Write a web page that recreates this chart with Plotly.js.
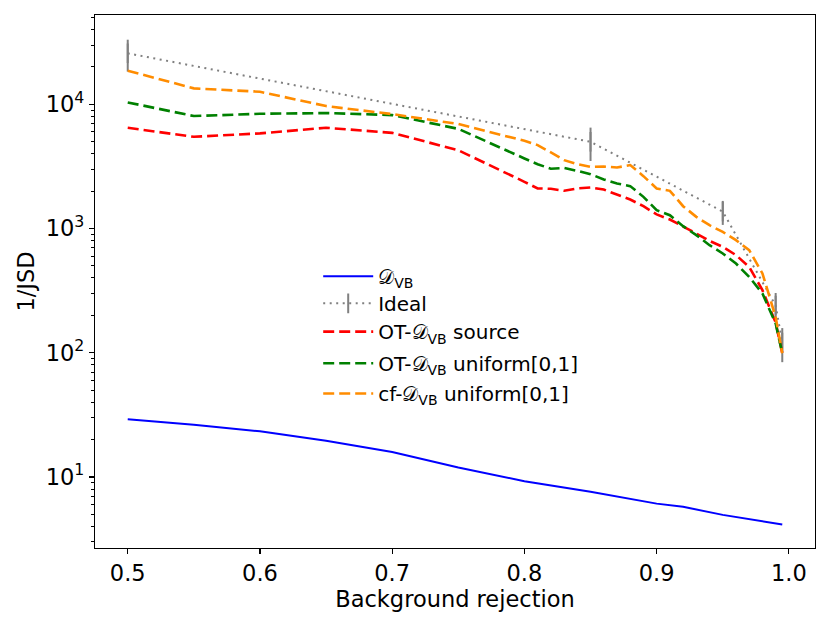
<!DOCTYPE html>
<html>
<head>
<meta charset="utf-8">
<script src="https://cdn.plot.ly/plotly-3.0.1.min.js"></script>
<style>html,body{margin:0;padding:0;background:#fff;}#chart{width:830px;height:623px;}</style>
</head>
<body>
<div id="chart"></div>
<script>
// ---- data ----
const vbX = [0.5, 0.55, 0.6, 0.65, 0.7, 0.75, 0.8, 0.85, 0.9, 0.92, 0.95, 0.97, 0.98, 0.995];
const vbY = [29.1, 26.3, 23.3, 19.6, 15.9, 11.9, 9.25, 7.6, 6.1, 5.75, 4.95, 4.6, 4.4, 4.15];

const idealX = [0.5, 0.85, 0.95, 0.99, 0.995];
const idealY = [25770, 5000, 1370, 240, 121];
const idealErr = [7400, 1500, 300, 63, 37];

const otSrcX = [0.5, 0.55, 0.6, 0.65, 0.7, 0.75, 0.8, 0.81, 0.82, 0.83, 0.84, 0.85, 0.86, 0.87, 0.88, 0.89, 0.9, 0.91, 0.92, 0.93, 0.94, 0.95, 0.96, 0.97, 0.98, 0.99, 0.995];
const otSrcY = [6480, 5480, 5840, 6480, 5900, 4270, 2380, 2105, 2090, 2015, 2105, 2140, 2060, 1890, 1714, 1514, 1300, 1183, 1045, 912, 796, 712, 611, 491, 319, 175, 99];

const otUniX = [0.5, 0.55, 0.6, 0.65, 0.7, 0.75, 0.8, 0.81, 0.82, 0.83, 0.84, 0.85, 0.86, 0.87, 0.88, 0.89, 0.9, 0.91, 0.92, 0.93, 0.94, 0.95, 0.96, 0.97, 0.98, 0.99, 0.995];
const otUniY = [10370, 8050, 8400, 8510, 8200, 6350, 3670, 3300, 3030, 3080, 2915, 2742, 2487, 2308, 2197, 1800, 1406, 1282, 1045, 885, 735, 630, 523, 408, 300, 172, 99];

const cfUniX = [0.5, 0.55, 0.6, 0.65, 0.7, 0.75, 0.8, 0.81, 0.82, 0.83, 0.84, 0.85, 0.86, 0.87, 0.88, 0.89, 0.9, 0.91, 0.92, 0.93, 0.94, 0.95, 0.96, 0.97, 0.98, 0.99, 0.995];
const cfUniY = [18660, 13450, 12640, 9690, 8350, 6950, 5090, 4700, 4100, 3555, 3300, 3140, 3160, 3100, 3245, 2643, 2105, 2013, 1514, 1242, 1064, 940, 807, 670, 435, 194, 99];

const xTickVals = [0.5, 0.6, 0.7, 0.8, 0.9, 1.0];
const yTickVals = [10, 100, 1000, 10000];
const yTickText = ['10<sup>1</sup>', '10<sup>2</sup>', '10<sup>3</sup>', '10<sup>4</sup>'];

const labels = ['𝒟<sub>VB</sub>', 'Ideal', 'OT-𝒟<sub>VB</sub> source', 'OT-𝒟<sub>VB</sub> uniform[0,1]', 'cf-𝒟<sub>VB</sub> uniform[0,1]'];

// minor tick positions for log axis
const yMinor = [];
for (let e = 0; e <= 4; e++) {
  for (let m = 2; m <= 9; m++) yMinor.push(m * Math.pow(10, e));
}

const FONT = 'DejaVu Sans, sans-serif';
const FS = 22.5;
const LFS = 20;

const traces = [
  {x: vbX, y: vbY, mode: 'lines', name: labels[0], legend: 'legend',
   line: {color: '#0000ff', width: 2}},
  {x: idealX, y: idealY, mode: 'lines+markers', name: labels[1], legend: 'legend2',
   line: {color: 'grey', width: 2, dash: '2px,4.5px'},
   marker: {symbol: 'line-ns-open', size: 14, color: 'grey', line: {color: 'grey', width: 2}},
   error_y: {type: 'data', array: idealErr, visible: true, color: 'grey', thickness: 2, width: 0}},
  {x: otSrcX, y: otSrcY, mode: 'lines', name: labels[2], legend: 'legend3',
   line: {color: '#ff0000', width: 2.6, dash: '11px,5px'}},
  {x: otUniX, y: otUniY, mode: 'lines', name: labels[3], legend: 'legend4',
   line: {color: '#008000', width: 2.6, dash: '11px,5px'}},
  {x: cfUniX, y: cfUniY, mode: 'lines', name: labels[4], legend: 'legend5',
   line: {color: '#ff8c00', width: 2.6, dash: '11px,5px'}}
];

function leg(y) {
  return {x: 0.31, y: y, xanchor: 'left', yanchor: 'middle', bgcolor: 'rgba(0,0,0,0)',
          borderwidth: 0, font: {family: FONT, size: LFS, color: '#000'}, itemwidth: 50};
}

const layout = {
  width: 830, height: 623,
  margin: {l: 95, r: 15, t: 15, b: 75},
  paper_bgcolor: '#fff', plot_bgcolor: '#fff',
  font: {family: FONT, size: FS, color: '#000'},
  showlegend: true,
  legend: leg(0.51), legend2: leg(0.459), legend3: leg(0.406), legend4: leg(0.3465), legend5: leg(0.290),
  xaxis: {
    range: [0.47525, 1.01975], tickmode: 'array', tickvals: xTickVals, ticktext: xTickVals.map(v => v.toFixed(1)),
    showgrid: false, zeroline: false, showline: true, mirror: true, linecolor: '#000', linewidth: 1.2,
    ticks: 'outside', ticklen: 5, tickwidth: 1.2, tickcolor: '#000',
    tickfont: {family: FONT, size: FS},
    title: {text: 'Background rejection', font: {family: FONT, size: FS}, standoff: 4},
    automargin: false
  },
  yaxis: {
    type: 'log', range: [0.428, 4.7196], tickmode: 'array', tickvals: yTickVals, ticktext: yTickText,
    showgrid: false, zeroline: false, showline: true, mirror: true, linecolor: '#000', linewidth: 1.2,
    ticks: 'outside', ticklen: 5, tickwidth: 1.2, tickcolor: '#000',
    tickfont: {family: FONT, size: FS},
    minor: {tickmode: 'array', tickvals: yMinor, ticks: 'outside', ticklen: 3, tickwidth: 1, tickcolor: '#000', showgrid: false},
    title: {text: '1/JSD', font: {family: FONT, size: FS}, standoff: 4},
    automargin: false
  }
};

Plotly.newPlot('chart', traces, layout, {displayModeBar: false, staticPlot: true});
</script>
</body>
</html>
